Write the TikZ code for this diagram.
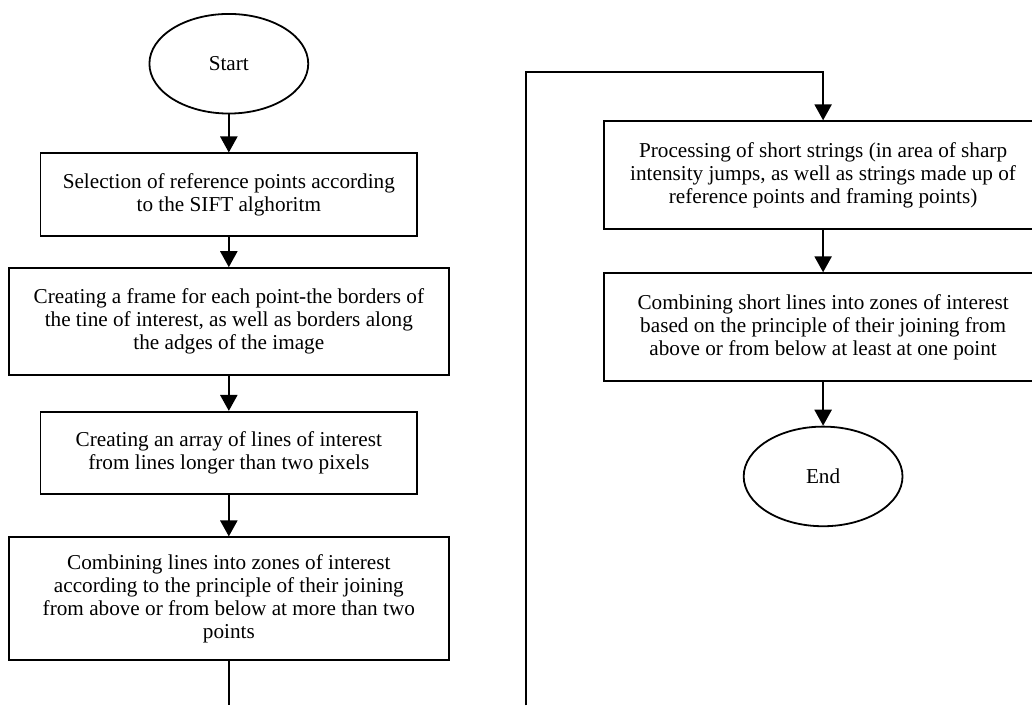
\documentclass[tikz,border=0pt]{standalone}
\usepackage{fontspec}
\setmainfont{Liberation Serif}
\usepackage{tikz}
\usetikzlibrary{arrows.meta,shapes.geometric,calc}

\begin{document}
\begin{tikzpicture}[
  font=\fontsize{10.6}{11.6}\selectfont,
  terminal/.style={draw,ellipse,line width=0.9pt,
    minimum width=27.9mm,minimum height=17.5mm,inner sep=0pt},
  stepbox/.style={draw,line width=0.9pt,align=center,inner sep=1mm,
    minimum width=66.2mm,minimum height=14.5mm},
  widebox/.style={stepbox,minimum width=77.3mm},
  arr/.style={-{Triangle[length=8pt,width=8.5pt]},line width=1.2pt},
  link/.style={line width=1.2pt}
]
\useasboundingbox (0,0) rectangle (18.13,12.39);

% Left column.
\node[terminal] (start) at (4.02,11.27) {Start};
\node[stepbox] (select) at (4.02,8.97)
  {Selection of reference points according\\to the SIFT alghoritm};
\node[widebox,minimum height=18.8mm] (frame) at (4.02,6.74)
  {Creating a frame for each point-the borders of\\
   the tine of interest, as well as borders along\\
   the adges of the image};
\node[stepbox] (array) at (4.02,4.43)
  {Creating an array of lines of interest\\from lines longer than two pixels};
\node[widebox,minimum height=21.6mm] (combine) at (4.02,1.87)
  {Combining lines into zones of interest\\
   according to the principle of their joining\\
   from above or from below at more than two\\
   points};
\draw[arr] (start)--(select);
\draw[arr] (select)--(frame);
\draw[arr] (frame)--(array);
\draw[arr] (array)--(combine);
\coordinate (leftend) at (4.02,0);
\draw[link] (combine.south)--(leftend);

% Right column.
\node[stepbox,minimum width=77mm,minimum height=19mm] (short) at (14.46,9.31)
  {Processing of short strings (in area of sharp\\
   intensity jumps, as well as strings made up of\\
   reference points and framing points)};
\node[stepbox,minimum width=77mm,minimum height=19mm] (zones) at (14.46,6.64)
  {Combining short lines into zones of interest\\
   based on the principle of their joining from\\
   above or from below at least at one point};
\node[terminal] (end) at (14.46,4.02) {End};
\coordinate (rightend) at (9.24,0);
\coordinate (looptop) at (14.46,11.12);
\draw[arr] (rightend)|-(looptop)--(short);
\draw[arr] (short)--(zones);
\draw[arr] (zones)--(end);
\end{tikzpicture}
\end{document}
